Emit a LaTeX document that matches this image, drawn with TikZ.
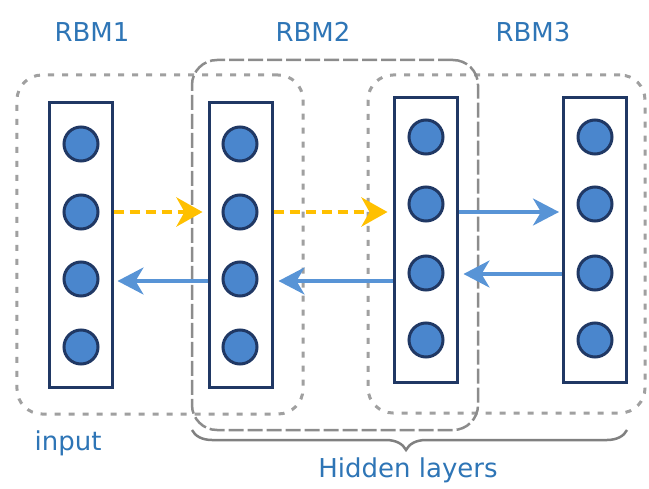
\documentclass[tikz,border=0pt]{standalone}
\usepackage{fontspec}
\setmainfont{DejaVu Sans}
\usetikzlibrary{arrows.meta,decorations.pathreplacing}
\definecolor{navy}{RGB}{32,56,100}
\definecolor{unitfill}{RGB}{74,134,205}
\definecolor{flowblue}{RGB}{88,148,214}
\definecolor{gold}{RGB}{255,192,0}
\definecolor{labelblue}{RGB}{46,117,182}
\definecolor{dotgray}{RGB}{160,160,160}
\definecolor{dashgray}{RGB}{140,140,140}
\definecolor{bracegray}{RGB}{128,128,128}
\tikzset{
  layerbox/.style={draw=navy, line width=3bp, fill=white, rectangle,
    minimum width=63bp, minimum height=284bp, inner sep=0pt},
  unit/.style={draw=navy, line width=3bp, fill=unitfill, circle,
    minimum size=34bp, inner sep=0pt},
  rbmdots/.style={draw=dotgray, line width=3bp, rectangle, rounded corners=25bp,
    dash pattern=on 6bp off 8bp, inner sep=0pt},
  rbmdash/.style={draw=dashgray, line width=2.5bp, rectangle, rounded corners=25bp,
    dash pattern=on 15bp off 4bp, inner sep=0pt},
  lbl/.style={text=labelblue, font=\fontsize{26bp}{31bp}\selectfont, anchor=base, inner sep=0pt},
  fwd/.style={draw=gold, line width=4.5bp, dash pattern=on 10bp off 6bp,
    -{Stealth[length=26bp, width=29bp, inset=8bp]}},
  back/.style={draw=flowblue, line width=3.5bp,
    -{Stealth[length=26bp, width=27bp, inset=8bp]}},
}
\begin{document}
\begin{tikzpicture}[x=1bp, y=-1bp]
\useasboundingbox (0,0) rectangle (649,489);

% RBM groupings
\node[rbmdots, minimum width=286bp, minimum height=339bp] (rbm1) at (160,244.5) {};
\node[rbmdots, minimum width=277bp, minimum height=338bp] (rbm3) at (506.5,244) {};
\node[rbmdash, minimum width=286bp, minimum height=370bp] (rbm2) at (335,245) {};

% layers
\node[layerbox] (l1) at (80.5,245) {};
\node[layerbox] (l2) at (240.5,245) {};
\node[layerbox] (l3) at (425.5,240) {};
\node[layerbox] (l4) at (595,240) {};

% units
\foreach \i/\y in {1/144,2/212,3/279,4/347}{
  \node[unit] (a\i) at (81,\y) {};
  \node[unit] (b\i) at (240,\y) {};
}
\foreach \i/\y in {1/137,2/204,3/273,4/340}{
  \node[unit] (c\i) at (426,\y) {};
  \node[unit] (d\i) at (595,\y) {};
}

% forward (pre-training) passes
\draw[fwd, shorten >=5bp] (a2 -| l1.east) -- (a2 -| l2.west);
\draw[fwd, shorten >=5bp] (b2 -| l2.east) -- (b2 -| l3.west);
\draw[back, shorten >=3bp] (b2 -| l3.east) -- (b2 -| l4.west);

% backward passes
\draw[back, shorten >=4bp] ([yshift=-2bp]a3 -| l2.west) -- ([yshift=-2bp]a3 -| l1.east);
\draw[back, shorten >=5bp] ([yshift=-2bp]b3 -| l3.west) -- ([yshift=-2bp]b3 -| l2.east);
\draw[back, shorten >=5bp] ([yshift=-1bp]d3 -| l4.west) -- ([yshift=-1bp]d3 -| l3.east);

% labels
\node[lbl] (t1) at (92,42) {RBM1};
\node[lbl] (t2) at (313,42) {RBM2};
\node[lbl] (t3) at (533,42) {RBM3};
\node[lbl] (tin) at (68,450) {input};

% brace over the hidden layers
\coordinate (brR) at (627,430);
\coordinate (brL) at (192,430);
\draw[bracegray, line width=2.5bp, decorate,
  decoration={brace, amplitude=20bp, aspect=0.508}] (brR) -- (brL);
\node[lbl] (thid) at (408,477) {Hidden layers};
\end{tikzpicture}
\end{document}
